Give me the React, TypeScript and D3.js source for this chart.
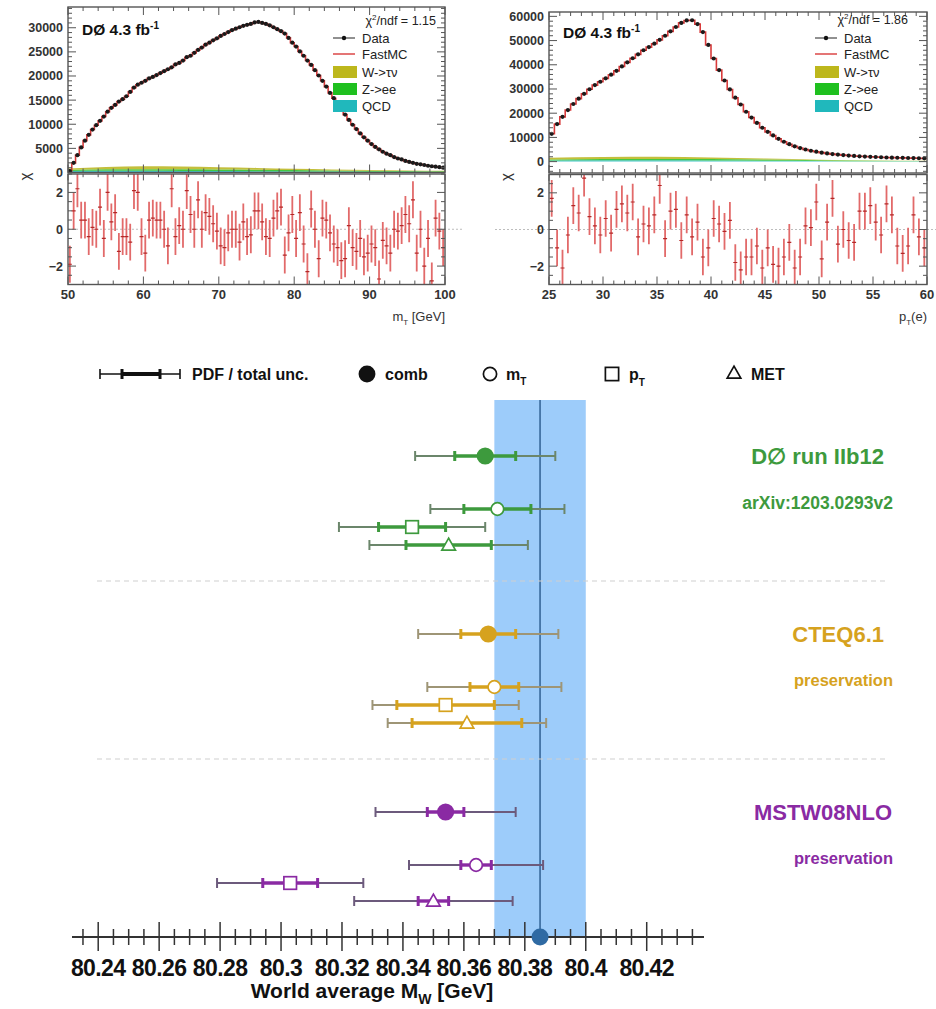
import React from "react";
import * as d3 from "d3";

const FONT = "'Liberation Sans', Arial, Helvetica, sans-serif";

// ---------- Transverse mass spectrum (0.5 GeV bins, 50–100 GeV) ----------
const mtLow = 50;
const mtBin = 0.5;
const mtEvents = [
  300, 2000, 3600, 5200, 6600, 7800, 8900, 9800, 10700, 11600,
  12600, 13400, 14000, 14700, 15200, 15800, 16700, 17600, 18200, 18600,
  19000, 19500, 19800, 20200, 20600, 21000, 21400, 21800, 22400, 22700,
  23200, 23900, 24200, 24800, 25400, 25900, 26500, 26900, 27400, 27800,
  28300, 28700, 29100, 29500, 29800, 30100, 30400, 30600, 30800, 31100,
  31200, 31000, 30800, 30500, 30100, 29700, 29300, 28800, 27900, 26900,
  26100, 25100, 24200, 23200, 22300, 21200, 20100, 19000, 17800, 16500,
  15400, 14200, 13100, 12000, 10900, 9900, 9000, 8100, 7300, 6600,
  5900, 5300, 4800, 4300, 3900, 3600, 3200, 2900, 2700, 2400,
  2200, 2000, 1800, 1700, 1550, 1400, 1300, 1200, 1100, 1000,
];
const mtChi = [
  -1.9, 1.0, 2.2, 0.5, 0.5, -0.4, 0.1, 0.0, 1.2, -0.5, 2.0, 0.4, 0.9, -1.2, -0.4, -0.4, -0.7, 2.1, 2.0, -0.4,
  -1.3, 0.5, 0.6, 0.5, 0.5, 0.0, -0.9, 2.2, -0.4, 0.2, 0.0, 2.1, 0.8, 0.0, 1.6, 0.0, 0.9, 0.7, 0.3, -0.1,
  -0.9, -1.0, -0.2, 0.0, 0.0, -0.7, 0.4, -0.4, -0.3, 1.0, 1.0, 0.4, -0.4, -0.5, 0.6, 1.0, 1.2, -1.4, -0.2, 0.8,
  -0.5, 0.9, -0.8, -2.3, 1.1, 0.0, -1.6, 0.6, 0.5, -0.2, -0.8, -1.0, -1.7, -1.6, 0.2, -1.0, -1.2, -0.5, -1.5, -1.3,
  -0.8, -1.0, -2.7, -0.6, -0.9, -1.3, 0.0, -0.1, 0.2, 0.8, 0.3, 1.6, -1.3, 0.0, -2.0, -0.5, -2.8, 0.6, -0.1, -1.0,
];
const mtBgAt = [50, 55, 60, 65, 70, 75, 80, 85, 90, 95, 100];
const mtQCD = [300, 350, 350, 330, 300, 270, 230, 190, 160, 130, 110];
const mtZee = [250, 300, 320, 320, 310, 300, 280, 250, 220, 190, 160];
const mtWtau = [300, 500, 600, 580, 480, 380, 280, 200, 140, 100, 80];
const mtYTicks = [0, 5000, 10000, 15000, 20000, 25000, 30000];
const mtXTicks = [50, 60, 70, 80, 90, 100];

// ---------- Electron pT spectrum (0.5 GeV bins, 25–60 GeV) ----------
const ptLow = 25;
const ptBin = 0.5;
const ptEvents = [
  11500, 15500, 18500, 21300, 23800, 26000, 28000, 29900, 31600, 33000,
  34400, 35900, 37500, 39300, 41000, 42700, 44300, 46000, 47300, 48700,
  50300, 52000, 53800, 55600, 57300, 58300, 58400, 56800, 53500, 48200,
  42600, 37800, 33500, 29800, 26400, 23600, 20600, 18200, 16000, 14000,
  12300, 10800, 9400, 8200, 7200, 6300, 5600, 5000, 4500, 4100,
  3700, 3400, 3100, 2900, 2700, 2500, 2350, 2200, 2100, 2000,
  1900, 1800, 1700, 1650, 1600, 1550, 1500, 1450, 1400, 1350,
];
const ptChi = [
  1.7, -1.0, -2.1, -0.3, 1.3, 0.9, 2.8, 0.7, 0.2, -0.3,
  0.6, -0.2, 1.1, 1.4, 0.9, 1.5, -0.4, 0.3, 0.2, 0.8,
  2.4, -0.5, 1.0, 1.1, -0.6, 0.8, -0.4, 0.4, -1.5, -1.0,
  0.6, 0.3, -0.1, 0.5, -1.8, -2.2, -1.5, -1.5, -0.9, -2.1,
  -1.0, -1.9, -2.0, -1.5, -0.7, -2.1, -1.5, 0.2, 0.1, 1.5,
  -1.6, 0.4, 1.7, -0.8, 0.0, -0.6, -0.7, 1.0, 1.0, 1.3,
  0.4, -0.3, 1.4, 0.8, -0.9, -1.3, -0.9, 0.8, -0.4, -1.0,
];
const ptBgAt = [25, 30, 35, 40, 45, 50, 55, 60];
const ptQCD = [500, 550, 550, 500, 400, 300, 200, 150];
const ptZee = [400, 500, 550, 550, 450, 300, 200, 150];
const ptWtau = [700, 900, 900, 700, 400, 200, 100, 50];
const ptYTicks = [0, 10000, 20000, 30000, 40000, 50000, 60000];
const ptXTicks = [25, 30, 35, 40, 45, 50, 55, 60];

const chiTicks = [-2, 0, 2];

// ---------- W boson mass results ----------
const groupNames = ["D\u2205 run IIb12", "CTEQ6.1", "MSTW08NLO"];
const groupNotes = ["arXiv:1203.0293v2", "preservation", "preservation"];
const methods = ["comb", "mT", "pT", "MET"];
const d0Mass = [80.367, 80.371, 80.343, 80.355];
const d0Pdf = [0.010, 0.011, 0.011, 0.014];
const d0Total = [0.023, 0.022, 0.024, 0.026];
const cteqMass = [80.368, 80.370, 80.354, 80.361];
const cteqPdf = [0.009, 0.008, 0.016, 0.018];
const cteqTotal = [0.023, 0.022, 0.024, 0.026];
const mstwMass = [80.354, 80.364, 80.303, 80.350];
const mstwPdf = [0.006, 0.005, 0.009, 0.005];
const mstwTotal = [0.023, 0.022, 0.024, 0.026];
const worldAverage = 80.385;
const worldAverageUnc = 0.015;
const massTicks = [80.24, 80.26, 80.28, 80.3, 80.32, 80.34, 80.36, 80.38, 80.4, 80.42];
const massDomain: [number, number] = [80.2314, 80.4388];

const groupColors = ["#3d9a3d", "#d6a21e", "#8a2aa3"];
const groupOuter = ["#6b866b", "#9e9576", "#6c5a7c"];

const bgColors = { qcd: "#22b8bd", zee: "#22bf22", wtau: "#b8b41a" };

type PanelProps = {
  id: string;
  left: number;
  right: number;
  top: number;
  split: number;
  bottom: number;
  lo: number;
  bin: number;
  events: number[];
  chi: number[];
  bgAt: number[];
  qcd: number[];
  zee: number[];
  wtau: number[];
  yDomain: [number, number];
  yTicks: number[];
  yMinor: number;
  xTicks: number[];
  xMinor: number;
  chi2: string;
  xLabel: React.ReactNode;
  zeroLine: [number, number];
  legendX: number;
  chi2X: number;
  chi2Y: number;
  tagY: number;
  chiLabelX: number;
};

function SpectrumPanel(p: PanelProps) {
  const hi = p.lo + p.bin * p.events.length;
  const x = d3.scaleLinear().domain([p.lo, hi]).range([p.left, p.right]);
  const y = d3.scaleLinear().domain(p.yDomain).range([p.split, p.top]);
  const ry = d3.scaleLinear().domain([-3, 3]).range([p.bottom, p.split + 1.5]);
  const centers = p.events.map((_, i) => p.lo + p.bin * (i + 0.5));

  const stepPts: [number, number][] = p.events.map((v, i) => [p.lo + p.bin * i, v] as [number, number]);
  stepPts.push([hi, p.events[p.events.length - 1]]);
  const stepPath = d3
    .line<[number, number]>()
    .x((d) => x(d[0]))
    .y((d) => y(d[1]))
    .curve(d3.curveStepAfter)(stepPts) as string;

  const rows = p.bgAt.map((m, i) => ({ m, qcd: p.qcd[i], zee: p.zee[i], wtau: p.wtau[i] }));
  const layers = d3.stack<any>().keys(["qcd", "zee", "wtau"])(rows);
  const area = d3
    .area<any>()
    .x((d) => x(d.data.m))
    .y0((d) => y(d[0]))
    .y1((d) => y(d[1]))
    .curve(d3.curveMonotoneX);

  const eps = 1e-9;
  const yMinors = d3.range(Math.ceil(p.yDomain[0] / p.yMinor) * p.yMinor, p.yDomain[1] + eps, p.yMinor);
  const xMinors = d3.range(p.lo, hi + eps, p.xMinor);
  const chiMinors = d3.range(-3, 3 + eps, 0.5);
  const tickColor = "#555";
  const labelStyle = { fontFamily: FONT, fontSize: 12.5, fontWeight: 700, fill: "#333" } as const;

  const lx = p.legendX;
  const legendRows = [38, 54, 72, 89, 106];

  return (
    <g>
      <defs>
        <clipPath id={`${p.id}-up`}>
          <rect x={p.left} y={p.top} width={p.right - p.left} height={p.split - p.top} />
        </clipPath>
        <clipPath id={`${p.id}-lo`}>
          <rect x={p.left} y={p.split + 1.5} width={p.right - p.left} height={p.bottom - p.split - 1.5} />
        </clipPath>
      </defs>

      {/* backgrounds + prediction + data */}
      <g clipPath={`url(#${p.id}-up)`}>
        {layers.map((layer) => (
          <path
            key={layer.key}
            d={area(layer) as string}
            fill={(bgColors as any)[layer.key]}
            fillOpacity={0.85}
          />
        ))}
        <path d={stepPath} fill="none" stroke="#d83a3a" strokeWidth={1.6} />
        {centers.map((c, i) => (
          <circle key={i} cx={x(c)} cy={y(p.events[i])} r={2.1} fill="#1a1a1a" />
        ))}
      </g>

      {/* ratio panel */}
      <line
        x1={p.zeroLine[0]}
        x2={p.zeroLine[1]}
        y1={ry(0)}
        y2={ry(0)}
        stroke="#bdbdbd"
        strokeWidth={1}
        strokeDasharray="2,2"
      />
      <g clipPath={`url(#${p.id}-lo)`}>
        {centers.map((c, i) => (
          <g key={i}>
            <line
              x1={x(c)}
              x2={x(c)}
              y1={ry(p.chi[i] - 1)}
              y2={ry(p.chi[i] + 1)}
              stroke="#e26a6a"
              strokeWidth={1.8}
            />
            <line
              x1={x(c) - 2}
              x2={x(c) + 2}
              y1={ry(p.chi[i])}
              y2={ry(p.chi[i])}
              stroke="#b42828"
              strokeWidth={1.2}
            />
          </g>
        ))}
      </g>

      {/* frames */}
      <rect x={p.left} y={p.top} width={p.right - p.left} height={p.split - p.top} fill="none" stroke="#555" strokeWidth={1.4} />
      <rect x={p.left} y={p.split + 1.5} width={p.right - p.left} height={p.bottom - p.split - 1.5} fill="none" stroke="#555" strokeWidth={1.4} />

      {/* upper ticks */}
      {yMinors.map((v, i) => {
        const major = p.yTicks.some((t) => Math.abs(t - v) < 1e-6);
        const len = major ? 8 : 4;
        return (
          <g key={`ym${i}`} stroke={tickColor} strokeWidth={1}>
            <line x1={p.left} x2={p.left + len} y1={y(v)} y2={y(v)} />
            <line x1={p.right} x2={p.right - len} y1={y(v)} y2={y(v)} />
          </g>
        );
      })}
      {xMinors.map((v, i) => {
        const major = p.xTicks.some((t) => Math.abs(t - v) < 1e-6);
        const len = major ? 8 : 4;
        return (
          <g key={`xm${i}`} stroke={tickColor} strokeWidth={1}>
            <line x1={x(v)} x2={x(v)} y1={p.top} y2={p.top + len} />
            <line x1={x(v)} x2={x(v)} y1={p.split} y2={p.split - len} />
            <line x1={x(v)} x2={x(v)} y1={p.split + 1.5} y2={p.split + 1.5 + len * 0.8} />
            <line x1={x(v)} x2={x(v)} y1={p.bottom} y2={p.bottom - len} />
          </g>
        );
      })}
      {chiMinors.map((v, i) => {
        const major = chiTicks.some((t) => Math.abs(t - v) < 1e-6);
        const len = major ? 8 : 4;
        return (
          <g key={`cm${i}`} stroke={tickColor} strokeWidth={1}>
            <line x1={p.left} x2={p.left + len} y1={ry(v)} y2={ry(v)} />
            <line x1={p.right} x2={p.right - len} y1={ry(v)} y2={ry(v)} />
          </g>
        );
      })}

      {/* tick labels */}
      {p.yTicks.map((t) => (
        <text key={`yl${t}`} x={p.left - 5} y={y(t) + 4.5} textAnchor="end" {...labelStyle}>
          {t}
        </text>
      ))}
      {chiTicks.map((t) => (
        <text key={`cl${t}`} x={p.left - 5} y={ry(t) + 4.5} textAnchor="end" {...labelStyle}>
          {t < 0 ? `\u2212${-t}` : t}
        </text>
      ))}
      {p.xTicks.map((t) => (
        <text key={`xl${t}`} x={x(t)} y={p.bottom + 14} textAnchor="middle" {...labelStyle} fontSize={13}>
          {t}
        </text>
      ))}
      <text
        transform={`translate(${p.chiLabelX},${p.split + 4}) rotate(-90)`}
        textAnchor="middle"
        fontFamily={FONT}
        fontSize={15}
        fill="#333"
      >
        χ
      </text>
      <text x={p.right} y={p.bottom + 36} textAnchor="end" fontFamily={FONT} fontSize={13} fill="#333">
        {p.xLabel}
      </text>

      {/* experiment tag */}
      <text x={p.left + 14} y={p.tagY} fontFamily={FONT} fontSize={15.5} fontWeight={700} fill="#111">
        DØ 4.3 fb
        <tspan dy={-6} fontSize={10}>
          -1
        </tspan>
      </text>

      {/* legend */}
      <text x={p.chi2X} y={p.chi2Y} textAnchor="end" fontFamily={FONT} fontSize={12.5} fill="#222">
        χ<tspan dy={-5} fontSize={8}>2</tspan>
        <tspan dy={5}>/ndf = {p.chi2}</tspan>
      </text>
      <line x1={lx} x2={lx + 22} y1={legendRows[0]} y2={legendRows[0]} stroke="#222" strokeWidth={1} />
      <circle cx={lx + 11} cy={legendRows[0]} r={2.2} fill="#111" />
      <line x1={lx} x2={lx + 22} y1={legendRows[1]} y2={legendRows[1]} stroke="#d83a3a" strokeWidth={1.4} />
      <rect x={lx} y={legendRows[2] - 6} width={24} height={12} fill="#bdb71c" />
      <rect x={lx} y={legendRows[3] - 6} width={24} height={12} fill="#1fc01f" />
      <rect x={lx} y={legendRows[4] - 6} width={24} height={12} fill="#20b8bc" />
      {["Data", "FastMC", "W->\u03c4\u03bd", "Z->ee", "QCD"].map((s, i) => (
        <text key={s} x={lx + 29} y={legendRows[i] + 4.5} fontFamily={FONT} fontSize={13} fill="#222">
          {s}
        </text>
      ))}
    </g>
  );
}

type MarkerKind = "comb" | "mT" | "pT" | "MET";

function Marker({ kind, cx, cy, color, scale = 1 }: { kind: MarkerKind; cx: number; cy: number; color: string; scale?: number }) {
  if (kind === "comb") return <circle cx={cx} cy={cy} r={8.6 * scale} fill={color} />;
  if (kind === "mT")
    return <circle cx={cx} cy={cy} r={6.3 * scale} fill="#fff" stroke={color} strokeWidth={1.7} />;
  if (kind === "pT") {
    const s = 6.3 * scale;
    return <rect x={cx - s} y={cy - s} width={2 * s} height={2 * s} fill="#fff" stroke={color} strokeWidth={1.7} />;
  }
  const s = 6.8 * scale;
  return (
    <path
      d={`M${cx},${cy - s} L${cx + s},${cy + s * 0.75} L${cx - s},${cy + s * 0.75} Z`}
      fill="#fff"
      stroke={color}
      strokeWidth={1.7}
    />
  );
}

function MassChart() {
  const x = d3.scaleLinear().domain(massDomain).range([72, 704]);
  const axisY = 937;
  const bandTop = 400;
  const groupTop = [456, 634, 812];
  const rowOffset = [0, 53, 71, 89];
  const results = [
    { mass: d0Mass, pdf: d0Pdf, total: d0Total },
    { mass: cteqMass, pdf: cteqPdf, total: cteqTotal },
    { mass: mstwMass, pdf: mstwPdf, total: mstwTotal },
  ];
  const minor = d3.range(80.235, 80.4351, 0.005);

  const legendY = 374;
  const legendText = { fontFamily: FONT, fontSize: 16, fontWeight: 700, fill: "#111" } as const;

  return (
    <g>
      {/* legend */}
      <g stroke="#111">
        <line x1={100} x2={180} y1={legendY} y2={legendY} strokeWidth={1.6} />
        <line x1={100} x2={100} y1={legendY - 5} y2={legendY + 5} strokeWidth={1.6} />
        <line x1={180} x2={180} y1={legendY - 5} y2={legendY + 5} strokeWidth={1.6} />
        <line x1={122} x2={160} y1={legendY} y2={legendY} strokeWidth={4} />
        <line x1={122} x2={122} y1={legendY - 5} y2={legendY + 5} strokeWidth={3} />
        <line x1={160} x2={160} y1={legendY - 5} y2={legendY + 5} strokeWidth={3} />
      </g>
      <text x={192} y={legendY + 6} {...legendText}>PDF / total unc.</text>
      <Marker kind="comb" cx={367} cy={legendY} color="#111" scale={0.98} />
      <text x={385} y={legendY + 6} {...legendText}>comb</text>
      <Marker kind="mT" cx={490} cy={legendY} color="#111" scale={1.05} />
      <text x={506} y={legendY + 6} {...legendText}>
        m<tspan dy={5} fontSize={10}>T</tspan>
      </text>
      <Marker kind="pT" cx={612} cy={legendY} color="#111" scale={1.05} />
      <text x={629} y={legendY + 6} {...legendText}>
        p<tspan dy={6} fontSize={10}>T</tspan>
      </text>
      <Marker kind="MET" cx={734} cy={legendY - 1} color="#111" scale={1} />
      <text x={751} y={legendY + 6} {...legendText}>MET</text>

      {/* world average band */}
      <rect
        x={x(worldAverage - worldAverageUnc)}
        y={bandTop}
        width={x(worldAverage + worldAverageUnc) - x(worldAverage - worldAverageUnc)}
        height={axisY - bandTop}
        fill="#9dccfa"
      />
      <line x1={x(worldAverage)} x2={x(worldAverage)} y1={bandTop} y2={axisY} stroke="#37689a" strokeWidth={1.6} />

      {/* group separators */}
      {[581, 759].map((yy) => (
        <line key={yy} x1={97} x2={885} y1={yy} y2={yy} stroke="#cfcfcf" strokeWidth={1} strokeDasharray="5,4" />
      ))}

      {/* measurements */}
      {results.map((r, g) => (
        <g key={g}>
          {methods.map((m, k) => {
            const yy = groupTop[g] + rowOffset[k];
            const lo = x(r.mass[k] - r.total[k]);
            const hi = x(r.mass[k] + r.total[k]);
            const plo = x(r.mass[k] - r.pdf[k]);
            const phi = x(r.mass[k] + r.pdf[k]);
            return (
              <g key={m}>
                <g stroke={groupOuter[g]} strokeWidth={2}>
                  <line x1={lo} x2={hi} y1={yy} y2={yy} />
                  <line x1={lo} x2={lo} y1={yy - 5} y2={yy + 5} />
                  <line x1={hi} x2={hi} y1={yy - 5} y2={yy + 5} />
                </g>
                <g stroke={groupColors[g]}>
                  <line x1={plo} x2={phi} y1={yy} y2={yy} strokeWidth={3.4} />
                  <line x1={plo} x2={plo} y1={yy - 5} y2={yy + 5} strokeWidth={3} />
                  <line x1={phi} x2={phi} y1={yy - 5} y2={yy + 5} strokeWidth={3} />
                </g>
                <Marker kind={m as MarkerKind} cx={x(r.mass[k])} cy={yy} color={groupColors[g]} />
              </g>
            );
          })}
          <text
            x={g === 2 ? 892 : 884}
            y={groupTop[g] + 8}
            textAnchor="end"
            fontFamily={FONT}
            fontSize={22}
            fontWeight={700}
            fill={groupColors[g]}
          >
            {groupNames[g]}
          </text>
          <text
            x={893}
            y={groupTop[g] + (g === 0 ? 53 : 52)}
            textAnchor="end"
            fontFamily={FONT}
            fontSize={g === 0 ? 17.5 : 16.5}
            fontWeight={700}
            fill={groupColors[g]}
          >
            {groupNotes[g]}
          </text>
        </g>
      ))}

      {/* mass axis */}
      <line x1={72} x2={704} y1={axisY} y2={axisY} stroke="#333" strokeWidth={2} />
      {minor.map((v, i) => {
        const major = massTicks.some((t) => Math.abs(t - v) < 1e-6);
        return (
          <line
            key={i}
            x1={x(v)}
            x2={x(v)}
            y1={axisY - (major ? 15 : 8)}
            y2={axisY + (major ? 14 : 8)}
            stroke="#333"
            strokeWidth={1.5}
          />
        );
      })}
      <circle cx={x(worldAverage)} cy={axisY} r={8.5} fill="#2f6aa3" />
      {massTicks.map((t) => (
        <text
          key={t}
          x={x(t)}
          y={axisY + 39}
          textAnchor="middle"
          fontFamily={FONT}
          fontSize={23}
          fontWeight={700}
          letterSpacing={-0.6}
          fill="#111"
        >
          {String(t)}
        </text>
      ))}
      <text x={372} y={axisY + 61} textAnchor="middle" fontFamily={FONT} fontSize={21} fontWeight={700} fill="#111">
        World average M<tspan dy={6} fontSize={14}>W</tspan>
        <tspan dy={-6}> [GeV]</tspan>
      </text>
    </g>
  );
}

export default function App() {
  return (
    <div style={{ position: "absolute", left: 0, top: 0 }}>
      <svg width={936} height={1009} viewBox="0 0 936 1009" style={{ display: "block", background: "#fff" }}>
        <rect width={936} height={1009} fill="#fff" />
        <SpectrumPanel
          id="mt"
          left={68}
          right={445}
          top={7}
          split={172.5}
          bottom={284.5}
          lo={mtLow}
          bin={mtBin}
          events={mtEvents}
          chi={mtChi}
          bgAt={mtBgAt}
          qcd={mtQCD}
          zee={mtZee}
          wtau={mtWtau}
          yDomain={[0, 34300]}
          yTicks={mtYTicks}
          yMinor={1000}
          xTicks={mtXTicks}
          xMinor={2}
          chi2="1.15"
          xLabel={
            <>
              m<tspan dy={4} fontSize={8}>T</tspan>
              <tspan dy={-4}> [GeV]</tspan>
            </>
          }
          zeroLine={[68, 463]}
          legendX={333}
          chi2X={436}
          chi2Y={25}
          tagY={35}
          chiLabelX={30}
        />
        <SpectrumPanel
          id="pt"
          left={549}
          right={927}
          top={12}
          split={173}
          bottom={284.5}
          lo={ptLow}
          bin={ptBin}
          events={ptEvents}
          chi={ptChi}
          bgAt={ptBgAt}
          qcd={ptQCD}
          zee={ptZee}
          wtau={ptWtau}
          yDomain={[-4700, 61800]}
          yTicks={ptYTicks}
          yMinor={2000}
          xTicks={ptXTicks}
          xMinor={1}
          chi2="1.86"
          xLabel={
            <>
              p<tspan dy={4} fontSize={8}>T</tspan>
              <tspan dy={-4}>(e)</tspan>
            </>
          }
          zeroLine={[495, 936]}
          legendX={815}
          chi2X={908}
          chi2Y={24}
          tagY={38}
          chiLabelX={511}
        />
        <MassChart />
      </svg>
    </div>
  );
}
